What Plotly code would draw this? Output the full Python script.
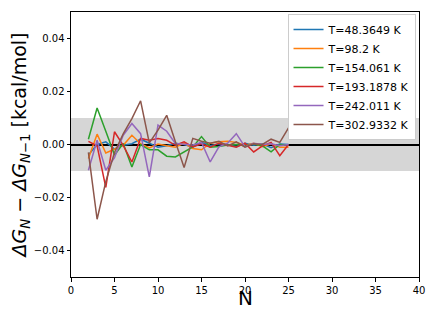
import plotly.graph_objects as go

N = list(range(2, 26))

temperatures = ["48.3649", "98.2", "154.061", "193.1878", "242.011", "302.9332"]
colors = ["#1f77b4", "#ff7f0e", "#2ca02c", "#d62728", "#9467bd", "#8c564b"]

dg_48 = [-0.0040, 0.0000, 0.0010, -0.0017, -0.0003, 0.0003, 0.0020, 0.0005,
         -0.0010, -0.0005, 0.0005, 0.0000, -0.0010, 0.0008, -0.0005, 0.0003,
         0.0000, -0.0008, 0.0005, -0.0003, 0.0002, -0.0012, 0.0002, 0.0000]
dg_98 = [-0.0053, 0.0039, -0.0032, -0.0017, -0.0003, 0.0035, 0.0003, -0.0013,
         0.0002, -0.0005, -0.0010, 0.0005, -0.0015, -0.0020, 0.0005, 0.0010,
         0.0012, 0.0008, -0.0003, 0.0005, -0.0008, 0.0003, -0.0010, -0.0010]
dg_154 = [0.0020, 0.0138, 0.0050, -0.0040, 0.0004, -0.0085, 0.0000, -0.0020,
          -0.0020, -0.0044, -0.0047, -0.0028, -0.0009, 0.0030, -0.0010, -0.0008,
          -0.0002, 0.0000, -0.0005, 0.0002, -0.0005, -0.0028, 0.0000, -0.0003]
dg_193 = [0.0012, -0.0005, -0.0162, 0.0048, -0.0003, -0.0066, 0.0023, 0.0016,
          0.0023, 0.0016, -0.0003, 0.0010, -0.0009, 0.0003, -0.0010, 0.0005,
          -0.0003, -0.0010, 0.0005, -0.0028, -0.0005, 0.0008, -0.0042, 0.0000]
dg_242 = [-0.0097, 0.0016, -0.0097, -0.0050, 0.0035, 0.0079, 0.0041, -0.0122,
          0.0073, 0.0050, 0.0004, 0.0000, -0.0002, 0.0008, -0.0066, -0.0009,
          0.0005, 0.0041, -0.0009, 0.0005, 0.0000, 0.0003, -0.0005, 0.0000]
dg_303 = [-0.0030, -0.0282, -0.0140, -0.0030, 0.0040, 0.0098, 0.0165, 0.0006,
          0.0054, 0.0110, 0.0010, -0.0087, 0.0023, 0.0012, 0.0005, 0.0012,
          -0.0005, 0.0010, -0.0010, 0.0003, 0.0000, 0.0020, 0.0008, 0.0063]

series = [dg_48, dg_98, dg_154, dg_193, dg_242, dg_303]

BAND = (-0.01, 0.01)
X_RANGE = [0, 40]
Y_RANGE = [-0.05, 0.05]
Y_TICKS = [-0.04, -0.02, 0.0, 0.02, 0.04]
X_TICKS = [0, 5, 10, 15, 20, 25, 30, 35, 40]

fig = go.Figure()

for temp, vals, col in zip(temperatures, series, colors):
    fig.add_trace(go.Scatter(
        x=N, y=vals, mode="lines", name=f"T={temp} K",
        line=dict(color=col, width=1.5),
    ))

fig.add_hrect(y0=BAND[0], y1=BAND[1], fillcolor="#d6d6d6", opacity=1,
              line_width=0, layer="below")

axis_common = dict(
    showline=True, linecolor="black", linewidth=1, mirror=True,
    ticks="outside", ticklen=3.5, tickwidth=1, tickcolor="black",
    showgrid=False, tickfont=dict(size=10, color="black"),
)

# page body adds an 8px offset, so the figure is a bit smaller than the window
fig.update_layout(
    width=428, height=319,
    paper_bgcolor="white", plot_bgcolor="white",
    font=dict(family="DejaVu Sans", color="black"),
    margin=dict(l=63, r=17, t=4, b=50),
    showlegend=True,
    legend=dict(
        x=0.99, y=0.992, xanchor="right", yanchor="top",
        bgcolor="white", bordercolor="#cccccc", borderwidth=1,
        font=dict(size=11), tracegroupgap=0, itemwidth=30,
    ),
    xaxis=dict(range=X_RANGE, tickvals=X_TICKS, zeroline=False,
               automargin=False, **axis_common),
    yaxis=dict(range=Y_RANGE, tickvals=Y_TICKS, tickformat=".2f",
               zeroline=True, zerolinecolor="black", zerolinewidth=1.6,
               automargin=False,
               title=dict(
                   text="<i>ΔG</i><sub><i>N</i></sub> − <i>ΔG</i><sub><i>N</i>−1</sub> [kcal/mol]",
                   font=dict(size=19), standoff=14),
               **axis_common),
    annotations=[dict(text="N", xref="paper", yref="paper", x=0.5, y=0,
                      yanchor="middle", yshift=-21, showarrow=False,
                      font=dict(size=20))],
)

fig.write_html("out.html")
